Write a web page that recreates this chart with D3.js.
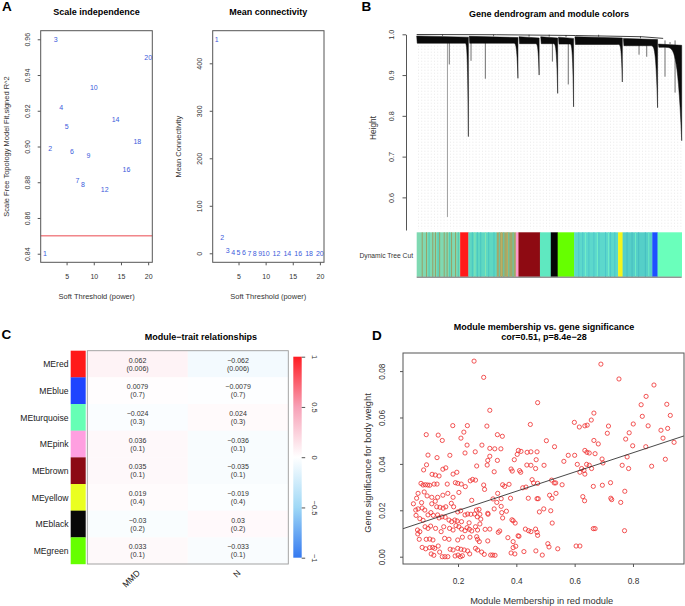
<!DOCTYPE html>
<html><head><meta charset="utf-8">
<script src="https://cdnjs.cloudflare.com/ajax/libs/d3/7.8.5/d3.min.js"></script>
<style>
body{margin:0;background:#fff}
svg{display:block}
text{font-family:"Liberation Sans",Arial,Helvetica,sans-serif}
</style>
</head><body>
<svg id="c" width="685" height="606"></svg>
<script>
// ---------------- DATA ----------------
// Panel A: soft-threshold selection
const powers      = [1,2,3,4,5,6,7,8,9,10,12,14,16,18,20];
const scaleFitR2  = [0.840,0.899,0.960,0.922,0.911,0.897,0.881,0.879,0.895,0.933,0.876,0.915,0.887,0.903,0.950];
const meanConn    = [450.5,32.8,5.5,2.2,1.2,0.8,0.55,0.4,0.3,0.22,0.14,0.1,0.07,0.05,0.04];
const r2Cutoff    = 0.85;
const r2Ticks     = [0.84,0.86,0.88,0.90,0.92,0.94,0.96];
const connTicks   = [0,100,200,300,400];
const powerTicks  = [5,10,15,20];

// Panel B: dendrogram clusters [startLeaf, endLeaf, topHeight, bandBottom, curveStart, tailHeight]
const dendroClusters = [
  [0.000,0.195,0.996,0.978,0.180,0.749],
  [0.198,0.382,0.995,0.978,0.362,0.892],
  [0.386,0.462,0.994,0.977,0.445,0.900],
  [0.468,0.532,0.994,0.977,0.512,0.855],
  [0.535,0.592,0.993,0.976,0.575,0.822],
  [0.597,0.776,0.994,0.975,0.758,0.883],
  [0.780,0.909,0.990,0.972,0.878,0.820],
  [0.912,1.000,0.976,0.968,0.928,0.739]
];
// single long branches [leaf, lowestHeight]
const dendroSpikes = [[0.116,0.552],[0.123,0.926],[0.205,0.935],[0.259,0.891],[0.512,0.933],
                      [0.572,0.877],[0.839,0.950],[0.868,0.945],[0.937,0.896],[0.975,0.857]];
const topMergeLine = [[0.0,0.9995],[0.3,0.999],[0.6,0.997],[0.85,0.994],[0.93,0.990]];
const heightTicks  = [0.6,0.7,0.8,0.9,1.0];
// module colour bar segments [startLeaf, endLeaf, colour]
const colorSegments = [
  [0.000,0.164,"#7fd9b2"],[0.164,0.195,"#ff1a1a"],[0.195,0.302,"#5ed8c2"],[0.302,0.374,"#a3a868"],
  [0.374,0.384,"#ff99cc"],[0.384,0.465,"#8e0a12"],[0.465,0.506,"#5fe8c0"],[0.506,0.532,"#050505"],
  [0.532,0.594,"#66ff00"],[0.594,0.760,"#5cd8cc"],[0.760,0.777,"#f5f51a"],[0.777,0.889,"#55cfc8"],
  [0.889,0.909,"#1e50ff"],[0.909,1.000,"#6affbb"]
];
// thin stripes inside mixed segments [leaf, colour]
const colorStripes = [
  [0.019,"#9a9a60"],[0.035,"#9a9a60"],[0.045,"#45c8b8"],[0.059,"#9a9a60"],[0.069,"#9a9a60"],[0.079,"#45c8b8"],
  [0.085,"#9a9a60"],[0.102,"#9a9a60"],[0.113,"#9a9a60"],[0.123,"#45c8b8"],[0.130,"#9a9a60"],[0.145,"#9a9a60"],[0.155,"#45c8b8"],
  [0.208,"#47c4c0"],[0.218,"#8be8b0"],[0.227,"#47c4c0"],[0.240,"#47c4c0"],[0.258,"#8be8b0"],[0.270,"#47c4c0"],[0.290,"#47c4c0"],
  [0.310,"#58d0b8"],[0.318,"#c0b060"],[0.327,"#58d0b8"],[0.340,"#c0b060"],[0.346,"#58d0b8"],[0.362,"#58d0b8"],
  [0.610,"#4bc5c8"],[0.625,"#4bc5c8"],[0.635,"#75f0c8"],[0.648,"#4bc5c8"],[0.667,"#4bc5c8"],[0.680,"#75f0c8"],
  [0.686,"#4bc5c8"],[0.711,"#4bc5c8"],[0.722,"#75f0c8"],[0.730,"#4bc5c8"],[0.746,"#4bc5c8"],
  [0.792,"#45bdc0"],[0.811,"#45bdc0"],[0.824,"#70eec5"],[0.836,"#45bdc0"],[0.861,"#45bdc0"],[0.874,"#70eec5"]
];

// Panel C: module-trait relationships
const modules      = ["MEred","MEblue","MEturquoise","MEpink","MEbrown","MEyellow","MEblack","MEgreen"];
const moduleColors = ["#ff1a1a","#1f45ff","#66ffb5","#ff9fe0","#8c0a14","#eaff20","#080808","#66ff00"];
const traits       = ["MMD","N"];
const corMMD       = [0.062,0.0079,-0.024,0.036,0.035,0.019,-0.03,0.033];
const corN         = [-0.062,-0.0079,0.024,-0.036,-0.035,-0.019,0.03,-0.033];
const pMMD         = ["0.006","0.7","0.3","0.1","0.1","0.4","0.2","0.1"];
const pN           = ["0.006","0.7","0.3","0.1","0.1","0.4","0.2","0.1"];
const legendTicks  = [-1,-0.5,0,0.5,1];

// Panel D: module membership vs gene significance (red module)
const redModulePoints = [
 [0.255,0.0843],[0.288,0.0773],[0.309,0.0631],[0.182,0.0565],[0.232,0.0565],[0.299,0.0563],[0.220,0.0537],[0.091,0.0526],
 [0.132,0.0524],[0.146,0.0501],[0.210,0.0511],[0.335,0.0526],[0.352,0.0519],[0.231,0.0481],[0.282,0.0481],[0.309,0.0467],
 [0.326,0.0465],[0.347,0.0465],[0.259,0.0452],[0.224,0.0447],[0.097,0.0438],[0.128,0.0427],[0.172,0.0437],[0.309,0.0433],
 [0.302,0.0415],[0.335,0.0415],
 [0.473,0.0664],[0.448,0.0570],[0.599,0.0579],[0.616,0.0559],[0.635,0.0564],[0.643,0.0567],[0.657,0.0589],[0.666,0.0619],
 [0.503,0.0500],[0.531,0.0474],[0.666,0.0501],[0.407,0.0458],[0.416,0.0454],[0.403,0.0441],[0.393,0.0418],[0.437,0.0450],
 [0.450,0.0452],[0.471,0.0452],[0.468,0.0418],[0.436,0.0395],[0.450,0.0394],[0.466,0.0380],[0.495,0.0394],[0.563,0.0411],
 [0.578,0.0437],[0.600,0.0437],[0.635,0.0458],[0.642,0.0450],[0.650,0.0447],[0.609,0.0398],[0.624,0.0380],[0.632,0.0372],
 [0.618,0.0364],[0.635,0.0356],[0.641,0.0398],[0.650,0.0394],[0.658,0.0380],[0.382,0.0378],[0.386,0.0369],[0.411,0.0371],
 [0.415,0.0364],[0.353,0.0310],[0.360,0.0303],[0.375,0.0312],[0.454,0.0332],[0.459,0.0318],[0.473,0.0316],[0.422,0.0297],
 [0.433,0.0300],[0.521,0.0330],[0.530,0.0318],[0.535,0.0318],[0.557,0.0310],[0.348,0.0250],[0.380,0.0252],[0.441,0.0252],
 [0.471,0.0250],[0.475,0.0250],[0.514,0.0265],[0.522,0.0252],[0.536,0.0273],[0.628,0.0259],[0.634,0.0241],[0.664,0.0303],
 [0.348,0.0217],[0.366,0.0196],[0.353,0.0167],[0.494,0.0206],[0.479,0.0193],[0.518,0.0198],[0.385,0.0159],[0.389,0.0155],
 [0.396,0.0145],[0.523,0.0145],[0.431,0.0119],[0.442,0.0112],[0.450,0.0108],[0.466,0.0119],[0.471,0.0105],[0.473,0.0092],
 [0.406,0.0090],[0.409,0.0088],[0.371,0.0082],[0.389,0.0065],[0.398,0.0045],[0.389,0.0039],[0.508,0.0056],[0.512,0.0042],
 [0.542,0.0034],[0.605,0.0046],[0.618,0.0046],[0.382,0.0016],[0.395,0.0012],[0.426,0.0022],[0.467,0.0025],[0.489,0.0007],
 [0.664,0.0121],
 [0.690,0.0830],[0.752,0.0766],[0.872,0.0740],[0.845,0.0691],[0.828,0.0655],[0.832,0.0605],[0.916,0.0657],[0.928,0.0609],
 [0.801,0.0572],[0.852,0.0564],[0.716,0.0563],[0.712,0.0532],[0.787,0.0534],[0.775,0.0507],[0.896,0.0545],[0.919,0.0553],
 [0.903,0.0511],[0.941,0.0493],[0.681,0.0486],[0.799,0.0478],[0.844,0.0474],[0.670,0.0444],[0.694,0.0421],[0.697,0.0404],
 [0.780,0.0430],[0.911,0.0420],[0.763,0.0394],[0.785,0.0380],[0.864,0.0390],[0.695,0.0308],[0.723,0.0319],[0.772,0.0282],
 [0.724,0.0252],[0.727,0.0246],[0.758,0.0234],[0.670,0.0121],[0.771,0.0112],
 [0.092,0.0396],[0.158,0.0383],[0.148,0.0377],[0.082,0.0374],[0.111,0.0355],[0.122,0.0352],[0.135,0.0348],[0.183,0.0356],
 [0.073,0.0316],[0.080,0.0309],[0.088,0.0310],[0.096,0.0309],[0.103,0.0308],[0.118,0.0313],[0.128,0.0313],[0.163,0.0313],
 [0.191,0.0319],[0.084,0.0279],[0.063,0.0273],[0.058,0.0252],[0.094,0.0262],[0.110,0.0256],[0.130,0.0256],[0.148,0.0265],
 [0.165,0.0273],[0.183,0.0256],[0.122,0.0239],[0.110,0.0228],[0.075,0.0233],[0.055,0.0201],[0.063,0.0206],[0.077,0.0210],
 [0.086,0.0201],[0.127,0.0215],[0.138,0.0213],[0.149,0.0209],[0.158,0.0215],[0.177,0.0230],[0.185,0.0215],[0.107,0.0190],
 [0.115,0.0178],[0.097,0.0180],[0.080,0.0157],[0.069,0.0164],[0.130,0.0180],[0.135,0.0167],[0.145,0.0172],[0.156,0.0170],
 [0.169,0.0158],[0.178,0.0151],[0.189,0.0158],[0.087,0.0129],[0.097,0.0122],[0.106,0.0132],[0.123,0.0122],[0.142,0.0108],
 [0.151,0.0129],[0.069,0.0108],[0.062,0.0098],[0.171,0.0122],[0.183,0.0115],[0.091,0.0075],[0.103,0.0076],[0.114,0.0072],
 [0.154,0.0079],[0.169,0.0075],[0.077,0.0040],[0.089,0.0034],[0.103,0.0039],[0.113,0.0040],[0.120,0.0036],[0.132,0.0046],
 [0.117,0.0006],[0.108,0.0012],[0.146,0.0000],[0.155,0.0000],[0.165,0.0000],[0.173,0.0032],[0.183,0.0029],[0.137,0.0020],
 [0.190,0.0003],[0.047,0.0228],[0.056,0.0178],[0.061,0.0115],[0.067,0.0075],
 [0.264,0.0391],[0.300,0.0395],[0.196,0.0364],[0.324,0.0366],[0.199,0.0316],[0.211,0.0313],[0.242,0.0327],[0.250,0.0333],
 [0.260,0.0330],[0.225,0.0302],[0.288,0.0309],[0.291,0.0290],[0.203,0.0277],[0.336,0.0273],[0.247,0.0243],[0.320,0.0249],
 [0.333,0.0234],[0.324,0.0206],[0.350,0.0190],[0.199,0.0193],[0.209,0.0198],[0.224,0.0180],[0.233,0.0184],[0.244,0.0183],
 [0.257,0.0184],[0.263,0.0201],[0.272,0.0204],[0.275,0.0183],[0.266,0.0172],[0.278,0.0162],[0.302,0.0187],[0.303,0.0183],
 [0.197,0.0154],[0.212,0.0151],[0.238,0.0146],[0.275,0.0141],[0.193,0.0134],[0.203,0.0129],[0.212,0.0119],[0.224,0.0112],
 [0.231,0.0125],[0.239,0.0118],[0.247,0.0111],[0.260,0.0129],[0.267,0.0115],[0.293,0.0118],[0.309,0.0119],[0.338,0.0105],
 [0.343,0.0111],[0.215,0.0084],[0.199,0.0072],[0.241,0.0084],[0.264,0.0086],[0.267,0.0075],[0.273,0.0065],[0.302,0.0068],
 [0.199,0.0036],[0.210,0.0032],[0.221,0.0029],[0.233,0.0025],[0.240,0.0012],[0.200,0.0007],[0.208,0.0000],[0.215,0.0004],
 [0.281,0.0020],[0.290,0.0010],[0.312,0.0007],[0.319,0.0007],[0.327,0.0006],[0.260,0.0036],[0.267,0.0029]
];
const lmCoef   = [0.0116, 0.0415]; // intercept, slope
const gsTicks  = [0,0.02,0.04,0.06,0.08];
const mmTicks  = [0.2,0.4,0.6,0.8];

// ---------------- DRAWING ----------------
const svg = d3.select("#c");
const AX = "#555", TXT = "#222";

function text(x, y, s, o = {}) {
  const t = svg.append("text").attr("x", x).attr("y", y).text(s)
    .attr("font-size", o.size || 8).attr("fill", o.fill || TXT)
    .attr("text-anchor", o.anchor || "middle");
  if (o.bold) t.attr("font-weight", "bold");
  if (o.rot != null) t.attr("transform", `rotate(${o.rot},${x},${y})`);
  return t;
}
function styleAxis(g) {
  g.selectAll("line").attr("stroke", AX);
  g.selectAll("path").attr("stroke", AX);
  g.selectAll("text").attr("fill", "#333").attr("font-family", null);
}
function leftAxis(scale, x, ticks, fmt, size, off) {
  const g = svg.append("g").attr("transform", `translate(${x},0)`)
    .call(d3.axisLeft(scale).tickValues(ticks).tickSize(3).tickFormat(fmt));
  g.select(".domain").remove();
  styleAxis(g);
  g.selectAll("text").attr("x", 0).attr("y", -off).attr("dy", 0)
    .attr("text-anchor", "middle").attr("transform", "rotate(-90)").attr("font-size", size);
  return g;
}
function bottomAxis(scale, y, ticks, fmt, size, off) {
  const g = svg.append("g").attr("transform", `translate(0,${y})`)
    .call(d3.axisBottom(scale).tickValues(ticks).tickSize(3).tickFormat(fmt));
  g.select(".domain").remove();
  styleAxis(g);
  g.selectAll("text").attr("y", off).attr("dy", 0).attr("font-size", size);
  return g;
}

// ===== Panel A =====
text(2, 10.5, "A", {size: 13.5, bold: true, anchor: "start", fill: "#000"});
// left: scale independence
{
  const x = d3.scaleLinear().domain([0.24, 20.76]).range([40.7, 152.3]);
  const y = d3.scaleLinear().domain([0.8352, 0.9648]).range([262.3, 30.7]);
  text(96.5, 14.5, "Scale independence", {size: 9, bold: true, fill: "#000"});
  svg.append("line").attr("x1", 40.7).attr("x2", 152.3).attr("y1", y(r2Cutoff)).attr("y2", y(r2Cutoff))
    .attr("stroke", "#e8343a").attr("stroke-width", 0.9);
  svg.append("rect").attr("x", 40.7).attr("y", 30.7).attr("width", 111.6).attr("height", 231.6)
    .attr("fill", "none").attr("stroke", AX);
  leftAxis(y, 40.7, r2Ticks, d3.format(".2f"), 7, 10.5);
  bottomAxis(x, 262.3, powerTicks, d3.format("d"), 7, 17);
  svg.append("g").selectAll("text").data(powers).join("text")
    .attr("x", d => x(d)).attr("y", (d, i) => y(scaleFitR2[i]) + 2.5).text(d => d)
    .attr("font-size", 7).attr("fill", "#3b5bdb").attr("text-anchor", "middle");
  text(96.7, 298.5, "Soft Threshold (power)", {size: 7.5, fill: "#333"});
  text(8.5, 146.5, "Scale Free Topology Model Fit,signed R^2", {size: 7.5, fill: "#333", rot: -90});
}
// right: mean connectivity
{
  const x = d3.scaleLinear().domain([0.24, 20.76]).range([212.7, 324]);
  const y = d3.scaleLinear().domain([-17.5, 468]).range([261.6, 31]);
  text(268.3, 14.5, "Mean connectivity", {size: 9, bold: true, fill: "#000"});
  svg.append("rect").attr("x", 212.7).attr("y", 30.7).attr("width", 111.3).attr("height", 231.6)
    .attr("fill", "none").attr("stroke", AX);
  leftAxis(y, 212.7, connTicks, d3.format("d"), 7, 10.5);
  bottomAxis(x, 262.3, powerTicks, d3.format("d"), 7, 17);
  svg.append("g").selectAll("text").data(powers).join("text")
    .attr("x", d => x(d)).attr("y", (d, i) => y(meanConn[i]) + 2.5).text(d => d)
    .attr("font-size", 7).attr("fill", "#3b5bdb").attr("text-anchor", "middle");
  text(268.3, 298.5, "Soft Threshold (power)", {size: 7.5, fill: "#333"});
  text(181.5, 146.7, "Mean Connectivity", {size: 7.5, fill: "#333", rot: -90});
}

// ===== Panel B =====
{
  text(361.5, 10.5, "B", {size: 13.5, bold: true, anchor: "start", fill: "#000"});
  text(549, 17, "Gene dendrogram and module colors", {size: 9, bold: true, fill: "#000"});
  const dx = d3.scaleLinear().domain([0, 1]).range([416.7, 681.7]);
  const dy = d3.scaleLinear().domain([0.52, 1.0]).range([230, 34.3]);
  // hanging leaves (faint dotted grey)
  const leafG = svg.append("g");
  d3.range(418.5, 681, 3.2).forEach(px => {
    leafG.append("line").attr("x1", px).attr("x2", px).attr("y1", dy(0.972)).attr("y2", dy(0.522))
      .attr("stroke", "#d2d2d2").attr("stroke-width", 0.5).attr("stroke-dasharray", "1,2");
  });
  // top merge line
  svg.append("path").attr("d", d3.line().x(d => dx(d[0])).y(d => dy(d[1]))(topMergeLine))
    .attr("fill", "none").attr("stroke", "#111").attr("stroke-width", 0.8);
  // long branches
  dendroSpikes.forEach(s => {
    svg.append("line").attr("x1", dx(s[0])).attr("x2", dx(s[0])).attr("y1", dy(0.985)).attr("y2", dy(s[1]))
      .attr("stroke", s[1] < 0.6 ? "#777" : "#333").attr("stroke-width", 0.7);
  });
  // clusters
  dendroClusters.forEach(c => {
    const [x0, x1, top, band, cs, tail] = c;
    const pts = [[x0, top], [x1, top - 0.003], [x1, tail]];
    for (let i = 0; i <= 24; i++) {
      const t = 1 - i / 24;
      pts.push([cs + (x1 - cs) * t, band - (band - tail) * Math.pow(t, 5)]);
    }
    pts.push([x0 + 0.002, band]);
    svg.append("path").attr("d", d3.line().x(d => dx(d[0])).y(d => dy(d[1]))(pts) + "Z")
      .attr("fill", "#0a0a0a").attr("stroke", "#0a0a0a").attr("stroke-width", 0.5);
    // vertical join to merge line
    svg.append("line").attr("x1", dx((x0 + x1) / 2)).attr("x2", dx((x0 + x1) / 2))
      .attr("y1", dy(top)).attr("y2", dy(Math.min(0.999, top + 0.005))).attr("stroke", "#111").attr("stroke-width", 0.6);
  });
  // y axis
  const ag = svg.append("g").attr("transform", "translate(406,0)")
    .call(d3.axisLeft(dy).tickValues(heightTicks).tickSize(3.5).tickSizeOuter(0).tickFormat(d3.format(".1f")));
  styleAxis(ag);
  ag.selectAll("text").attr("x", 0).attr("y", -12).attr("dy", 0).attr("text-anchor", "middle")
    .attr("transform", "rotate(-90)").attr("font-size", 7.2);
  text(375.5, 128, "Height", {size: 8.3, fill: "#333", rot: -90});
  // colour bar
  const by0 = 232.3, by1 = 276.7;
  colorSegments.forEach(s => {
    svg.append("rect").attr("x", dx(s[0])).attr("width", dx(s[1]) - dx(s[0]) + 0.3)
      .attr("y", by0).attr("height", by1 - by0).attr("fill", s[2]);
  });
  colorStripes.forEach(s => {
    svg.append("rect").attr("x", dx(s[0])).attr("width", 0.9).attr("y", by0).attr("height", by1 - by0).attr("fill", s[1]);
  });
  svg.append("line").attr("x1", dx(0)).attr("x2", dx(1)).attr("y1", by1 + 0.5).attr("y2", by1 + 0.5)
    .attr("stroke", "#666").attr("stroke-width", 1);
  text(413, 258, "Dynamic Tree Cut", {size: 6.7, anchor: "end", fill: "#333"});
}

// ===== Panel C =====
{
  text(1.5, 338.5, "C", {size: 13.5, bold: true, anchor: "start", fill: "#000"});
  text(201, 339.5, "Module\u2212trait relationships", {size: 9, bold: true, fill: "#000"});
  const ry = d3.scaleBand().domain(modules).range([350.7, 564]);
  const cx = d3.scaleBand().domain(traits).range([87.3, 288.3]);
  const col = d3.scaleLinear().domain([-1, -0.5, 0, 0.5, 1])
    .range(["#3579f0", "#9fd8f6", "#ffffff", "#f7a0b6", "#ff1c22"]);
  const fmt = v => String(v).replace("-", "\u2212");
  modules.forEach((m, i) => {
    svg.append("rect").attr("x", 70.7).attr("width", 15).attr("y", ry(m)).attr("height", ry.bandwidth() + 0.2)
      .attr("fill", moduleColors[i]);
    text(68.5, ry(m) + ry.bandwidth() / 2 + 3.2, m, {size: 8.6, anchor: "end", fill: "#222"});
    [[corMMD, pMMD], [corN, pN]].forEach((arr, j) => {
      const v = arr[0][i];
      svg.append("rect").attr("x", cx(traits[j])).attr("width", cx.bandwidth()).attr("y", ry(m))
        .attr("height", ry.bandwidth() + 0.2).attr("fill", col(v));
      const ccx = cx(traits[j]) + cx.bandwidth() / 2, ccy = ry(m) + ry.bandwidth() / 2;
      text(ccx, ccy - 1.3, fmt(v), {size: 7, fill: "#333"});
      text(ccx, ccy + 6.8, "(" + arr[1][i] + ")", {size: 7, fill: "#333"});
    });
  });
  svg.append("rect").attr("x", 87.3).attr("y", 350.7).attr("width", 201).attr("height", 213.3)
    .attr("fill", "none").attr("stroke", "#9a9a9a").attr("stroke-width", 0.9);
  traits.forEach(t => {
    text(cx(t) + cx.bandwidth() / 2 + 3, 573.5, t, {size: 8.6, anchor: "end", rot: -45, fill: "#222"});
  });
  // legend
  const ly = d3.scaleLinear().domain([-1, 1]).range([557.7, 356.7]);
  const grad = svg.append("defs").append("linearGradient").attr("id", "lg")
    .attr("x1", 0).attr("y1", 1).attr("x2", 0).attr("y2", 0);
  legendTicks.forEach(v => grad.append("stop").attr("offset", (v + 1) / 2).attr("stop-color", col(v)));
  svg.append("rect").attr("x", 293.3).attr("y", 356.7).attr("width", 8.4).attr("height", 201)
    .attr("fill", "url(#lg)");
  const lg = svg.append("g").attr("transform", "translate(301.7,0)")
    .call(d3.axisRight(ly).tickValues(legendTicks).tickSize(3.5).tickFormat(v => fmt(v)));
  lg.select(".domain").remove();
  styleAxis(lg);
  lg.selectAll("text").attr("x", 0).attr("y", -10).attr("dy", 0).attr("text-anchor", "middle")
    .attr("transform", "rotate(90)").attr("font-size", 7.5);
}

// ===== Panel D =====
{
  text(372, 339.5, "D", {size: 13.5, bold: true, anchor: "start", fill: "#000"});
  text(544, 329.5, "Module membership vs. gene significance", {size: 9, bold: true, fill: "#000"});
  text(544, 340, "cor=0.51, p=8.4e\u221228", {size: 9, bold: true, fill: "#000"});
  const x = d3.scaleLinear().domain([0.0113, 0.975]).range([403, 684]);
  const y = d3.scaleLinear().domain([-0.00315, 0.0878]).range([564, 353]);
  svg.append("g").selectAll("circle").data(redModulePoints).join("circle")
    .attr("cx", d => x(d[0])).attr("cy", d => y(d[1])).attr("r", 2.1)
    .attr("fill", "none").attr("stroke", "#ef2b2b").attr("stroke-width", 0.8);
  const xd = x.domain();
  svg.append("line").attr("x1", x(xd[0])).attr("x2", x(xd[1]))
    .attr("y1", y(lmCoef[0] + lmCoef[1] * xd[0])).attr("y2", y(lmCoef[0] + lmCoef[1] * xd[1]))
    .attr("stroke", "#333").attr("stroke-width", 0.9);
  svg.append("rect").attr("x", 403).attr("y", 353).attr("width", 281).attr("height", 211)
    .attr("fill", "none").attr("stroke", AX);
  leftAxis(y, 403, gsTicks, d3.format(".2f"), 8.3, 18);
  bottomAxis(x, 564, mmTicks, d3.format(".1f"), 8.3, 19.5);
  text(541.7, 604, "Module Membership in red module", {size: 9.3, fill: "#333"});
  text(371, 463, "Gene significance for body weight", {size: 9.3, fill: "#333", rot: -90});
}
</script>
</body></html>
